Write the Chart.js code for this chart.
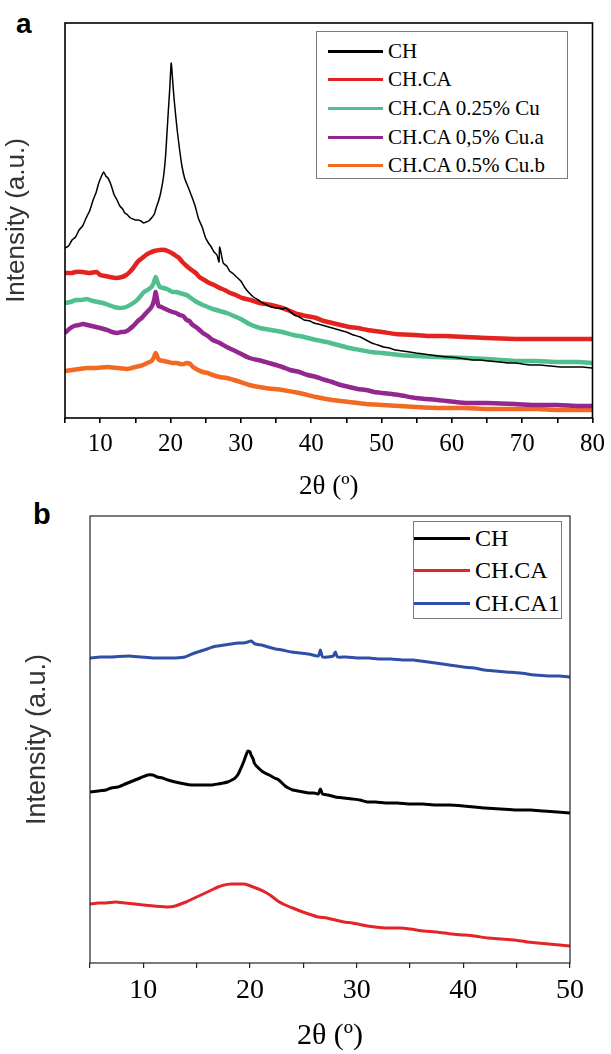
<!DOCTYPE html>
<html><head><meta charset="utf-8">
<script src="https://cdn.jsdelivr.net/npm/chart.js@4.4.1/dist/chart.umd.min.js"></script>
<style>
body{margin:0;background:#fff;width:611px;height:1054px;position:relative;overflow:hidden}
.panel{position:absolute;left:0;width:611px}
.lbl{position:absolute;font-family:"Liberation Sans",Arial,sans-serif;font-weight:bold;color:#000;line-height:1}
.legend{position:absolute;border:1px solid #7a7a7a;background:#fff;font-family:"Liberation Serif","Times New Roman",serif;color:#000;box-sizing:border-box}
.legend .row{position:absolute;white-space:nowrap;display:flex;align-items:center}
.legend .ln{display:inline-block;height:3px}
</style>
</head><body>
<div class="lbl" style="left:16px;top:10px;font-size:28px">a</div>
<div class="lbl" style="left:33px;top:500px;font-size:29px">b</div>
<div class="panel" style="top:0;height:505px"><canvas id="ca" width="611" height="505"></canvas></div>
<div class="panel" style="top:505px;height:549px"><canvas id="cb" width="611" height="549"></canvas></div>
<div class="legend" id="legA" style="left:316px;top:31px;width:252px;height:148px;font-size:21px"></div>
<div class="legend" id="legB" style="left:413px;top:521px;width:149px;height:98px;font-size:24px"></div>
<script>
// ---------- Panel a data (2θ in degrees, intensity in arbitrary units) ----------
const aNames = ["CH", "CH.CA", "CH.CA 0.25% Cu", "CH.CA 0,5% Cu.a", "CH.CA 0.5% Cu.b"];
const aColors = ["#000000", "#e2231f", "#4fc08d", "#93278f", "#f26a22"];

const aCH_x = [5,5.5,6,6.5,7,7.5,8,8.5,9,9.4,9.8,10.2,10.5,10.8,11.1,11.5,12,12.4,12.8,13.2,13.5,13.9,14.3,14.7,15,15.4,15.8,16.2,16.5,16.9,17.3,17.7,18,18.3,18.6,19,19.3,19.5,19.7,19.9,20.1,20.3,20.5,20.7,21,21.3,21.6,22,22.5,23,23.5,24,24.5,25,25.4,25.8,26.2,26.6,26.8,26.9,27,27.5,28,28.4,28.8,29.4,30,30.6,31.2,31.8,32.5,33.1,33.7,34.3,35,35.5,35.9,36.4,36.9,37.6,38.3,39,39.8,40.4,41,42,43,44,45,46,47,47.8,48.6,49.5,50.3,51.1,52,53,54,54.9,56,57,58,59.6,61,62,63,64,65.3,66.7,68,69,70,71.4,72.5,74,75.5,77,78.5,80];
const aCH_y = [170,172,178,181,188,192,200,207,218,225,235,242,246,242,240,234,223,218,212,209,205,203,200,199,198,198,197,195,196,197,200,204,211,217,225,241,262,285,308,330,355,338,320,305,285,268,253,240,231,222,212,199,191,180,175,171,166,163,158,156,171,155,152,147,145,141,137,130,125,121,118,115,113,111,110,110,109,110,107,103,101,98,97,95,94,92,90,88,86,83,81,78,75,73,71,70,68,67,66,65,64,63,62,61,60,59,58,58,57,56,55,55,54,53,53,52,51,51,51,50];

const aCA_x = [5,6,6.5,7.5,8.5,9.5,10,10.7,11.4,12.2,13.1,13.7,14.2,14.7,15.2,15.6,16,16.5,17,17.7,18.5,19.2,19.9,20.4,20.8,21.2,21.7,22.3,23,23.6,24.1,24.8,25.5,26.2,27,27.7,28.5,29.3,30.2,31.4,32.7,34.3,35.9,37,38,39.3,40.7,41.8,43,44.2,45.4,46.6,48,49,50.1,52,54.9,57,59,62,65,69,72,75,78,80];
const aCA_y = [145,145,146,146,145,146,143,142,141,140,141,143,146,150,155,158,160,163,165,167,168,168,166,164,162,160,156,152,148,145,141,138,135,133,130,128,125,123,120,118,115,113,110,107,104,102,100,97,95,93,91,90,88,87,86,84,83,82,82,81,80,79,79,79,79,79];

const a025_x = [5,5.8,6.5,7.3,8.1,9,9.7,10.4,11.2,12,12.8,13.7,14.7,15.4,16.1,16.7,17.3,17.6,17.9,18.2,18.5,19,19.5,20,20.3,20.8,21.3,21.8,22.3,22.9,23.5,24,24.6,25.3,26,27,28,29,30,31.2,32.7,34.3,35.9,37.5,39,40.7,42.2,43.8,45.4,47,48.5,50.1,52.5,54.9,58,62,65,69,72,75,78,80];
const a025_y = [115,116,118,118,119,117,116,115,113,111,110,111,115,119,125,128,131,135,141,135,131,130,129,127,126,126,125,124,123,120,117,115,113,111,109,107,105,102,99,94,90,88,86,83,81,78,76,73,70,68,66,65,63,62,61,60,59,57,57,56,56,55];

const a05a_x = [5,5.6,6.3,7,7.6,8.2,8.8,9.4,10,10.5,11,11.7,12.4,13,13.3,13.8,14.2,14.7,15.1,15.5,15.9,16.4,16.8,17.2,17.5,17.7,17.9,18.1,18.3,18.7,19,19.6,20.3,20.8,21.3,21.8,22.3,22.7,23,23.8,24.6,25.3,26,27,28,29.5,31.2,33,34.5,35.9,37,38.3,39.5,40.7,42,43,44.2,45.4,46.6,47.8,49,50.1,52.5,54.9,58,62,65,69,72,75,78,80];
const a05a_y = [85,89,92,93,94,93,92,91,90,89,88,86,85,86,86,87,89,92,95,98,100,104,107,110,114,119,126,118,112,111,110,108,106,105,103,102,98,97,94,90,85,82,78,75,71,66,60,57,54,51,48,46,43,41,38,36,33,31,29,28,26,25,23,20,18,15,15,14,13,13,12,12];

const a05b_x = [5,6,7,8.1,9.5,11,12.5,13.8,14.5,15,15.6,16.1,16.7,17.3,17.6,17.9,18.2,18.4,19,19.7,20.3,20.9,21.4,21.9,22.3,22.8,23.2,23.9,24.6,25.3,26,27,28,29.5,31.2,33.5,35.9,38.3,40.7,43,45.4,47.8,50.1,52.5,54.9,58,62,65,69,72,75,78,80];
const a05b_y = [47,48,49,50,50,51,50,49,50,51,52,53,55,57,60,65,60,58,57,56,55,55,54,54,55,54,51,48,46,45,43,41,40,37,33,30,28,25,21,18,16,14,13,12,11,10,10,9,9,9,8,8,8];

// ---------- Panel b data ----------
const bNames = ["CH", "CH.CA", "CH.CA1"];
const bColors = ["#000000", "#e32528", "#2f4ea8"];

const bCH_x = [5,5.8,6.5,7,7.6,8.3,9,9.7,10.4,10.9,11.3,11.8,12.3,13,13.9,14.5,15,15.7,16.4,17,17.5,17.9,18.3,18.6,18.9,19.2,19.4,19.6,19.8,20,20.1,20.3,20.4,20.6,20.9,21.1,21.4,21.8,22.3,22.7,23,23.3,23.6,24,24.5,25,25.5,26,26.4,26.6,26.8,27.3,28,28.8,29.6,30.3,31,31.8,32.7,33.8,35,36.2,37.4,38.7,40,41,42,43.5,45,46.3,47.5,48.8,50];
const bCH_y = [171,172,173,175,176,179,182,185,188,188,186,185,183,181,179,178,178,178,178,179,180,181,183,185,189,196,201,207,212,211,208,204,200,197,194,192,190,188,185,183,180,177,175,173,172,171,170,170,169,174,169,168,166,165,164,163,161,161,160,160,159,159,158,158,157,156,155,154,153,153,152,151,150];

const bCA_x = [5,5.8,6.5,7.4,8.3,9.2,10,11,12.3,13,13.5,14,14.6,15.2,15.8,16.4,17,17.6,18.2,18.9,19.4,19.8,20.3,20.8,21.4,22,22.6,23.3,24,24.7,25.5,26.4,27.2,28,28.8,29.6,31,32.7,34,35,36.3,37.5,38.9,40,41,42.3,43.6,44.8,46,47,48,49,50];
const bCA_y = [59,60,60,61,60,59,58,57,56,57,59,61,64,67,70,73,76,78,79,79,79,78,76,74,71,67,62,58,55,52,49,46,45,43,41,40,37,35,35,34,32,31,29,28,27,25,24,23,21,20,19,18,17];

const bCA1_x = [5,6,7,8.6,9.8,11,12,13,13.9,14.8,15.4,16,16.5,17,17.6,18.2,18.9,19.4,19.8,20.1,20.5,21.1,21.7,22.4,23,23.9,24.7,25.5,26.4,26.6,26.8,27.3,27.8,28,28.2,29,30.2,31.2,32,33.2,34.3,35.3,36,37.4,38.7,40,41,42,43,44,45.3,46.7,48,49,50];
const bCA1_y = [305,306,306,307,306,305,305,305,306,310,312,314,316,317,318,319,320,320,321,322,319,318,316,314,313,311,310,309,307,313,306,306,307,311,306,306,305,305,304,304,303,303,302,300,298,296,295,293,292,291,290,288,287,287,286];

const aSeries = [[aCH_x,aCH_y],[aCA_x,aCA_y],[a025_x,a025_y],[a05a_x,a05a_y],[a05b_x,a05b_y]];
const bSeries = [[bCH_x,bCH_y],[bCA_x,bCA_y],[bCA1_x,bCA1_y]];

const aTicks = [10,20,30,40,50,60,70,80];
const bTicks = [10,20,30,40,50];

function pts(xs, ys){ return xs.map((x,i)=>({x:x,y:ys[i]})); }

const frame = {
  id:'frame',
  afterDatasetsDraw(chart, args, opts){
    const {ctx, chartArea:{left,top,right,bottom}} = chart;
    ctx.save();
    ctx.strokeStyle = opts.color; ctx.lineWidth = opts.width;
    ctx.strokeRect(left, top, right-left, bottom-top);
    ctx.restore();
  }
};

function makeChart(id, names, colors, series, widths, cfg){
  const datasets = series.map((s,i)=>({
    label: names[i], data: pts(s[0], s[1]), borderColor: colors[i],
    borderWidth: widths[i], pointRadius: 0, tension: 0.2, fill:false
  }));
  datasets.forEach((d,i)=>{ d.order = cfg.orders[i]; });
  return new Chart(document.getElementById(id), {
    type:'line',
    data:{datasets},
    plugins:[frame],
    options:{
      responsive:false, animation:false,
      layout:{padding:cfg.padding},
      plugins:{legend:{display:false}, tooltip:{enabled:false}, frame:{color:cfg.frameColor, width:cfg.frameWidth}},
      scales:{
        x:{type:'linear', min:cfg.xmin, max:cfg.xmax,
          afterFit(s){ s.height = cfg.xh; },
          border:{display:false},
          grid:{drawOnChartArea:false, drawTicks:true, tickLength:5, color:cfg.frameColor, lineWidth:cfg.frameWidth},
          ticks:{stepSize:5, autoSkip:false, maxRotation:0, padding:cfg.tickPad, color:'#000',
            font:{family:'"Liberation Serif","Times New Roman",serif', size:cfg.tickSize},
            callback:(v)=> cfg.ticks.includes(v) ? String(v) : ''},
          title:{display:true, text:'2θ (º)', color:'#000', padding:{top:0,bottom:cfg.xtPad},
            font:{family:'"Liberation Serif","Times New Roman",serif', size:cfg.xtSize, lineHeight:1.2}}
        },
        y:{min:0, max:cfg.ymax,
          afterFit(s){ s.width = cfg.yw; },
          border:{display:false}, grid:{display:false}, ticks:{display:false},
          title:{display:true, text:'Intensity (a.u.)', color:'#333', padding:{top:cfg.ytPad,bottom:0},
            font:{family:'"Liberation Sans",Arial,sans-serif', size:cfg.ytSize, lineHeight:1.2}}
        }
      }
    }
  });
}

makeChart('ca', aNames, aColors, aSeries, [1.5,4.5,4.5,4.5,4.5], {
  padding:{top:23,right:16,left:0,bottom:0}, xmin:5, xmax:80, ymax:395, xh:87, yw:65,
  frameColor:'#000', frameWidth:1.6, tickPad:6, tickSize:25, xtSize:27, xtPad:2, ytSize:26, ytPad:1,
  ticks:aTicks, orders:[0,1,2,3,4]
});
makeChart('cb', bNames, bColors, bSeries, [3,3,3], {
  padding:{top:11,right:41,left:0,bottom:0}, xmin:5, xmax:50, ymax:447, xh:91, yw:90,
  frameColor:'#222', frameWidth:1.2, tickPad:6, tickSize:28, xtSize:30, xtPad:0, ytSize:27, ytPad:21,
  ticks:bTicks, orders:[0,1,2]
});

function buildLegend(el, names, colors, o){
  names.forEach((n,i)=>{
    const r = document.createElement('div');
    r.className='row';
    r.style.left = o.lineLeft+'px';
    r.style.top = (o.first + i*o.step - o.rowH/2)+'px';
    r.style.height = o.rowH+'px';
    const l = document.createElement('span');
    l.className='ln'; l.style.width=o.lineW+'px'; l.style.background=colors[i]; l.style.height=o.lineH+'px';
    const t = document.createElement('span');
    t.textContent = n; t.style.marginLeft = o.gap+'px';
    r.appendChild(l); r.appendChild(t); el.appendChild(r);
  });
}
buildLegend(document.getElementById('legA'), aNames, aColors, {lineLeft:11, first:19, step:28.7, rowH:26, lineW:55, lineH:3, gap:5});
buildLegend(document.getElementById('legB'), bNames, bColors, {lineLeft:0, first:16, step:32.5, rowH:30, lineW:56, lineH:3, gap:5});
</script>
</body></html>
